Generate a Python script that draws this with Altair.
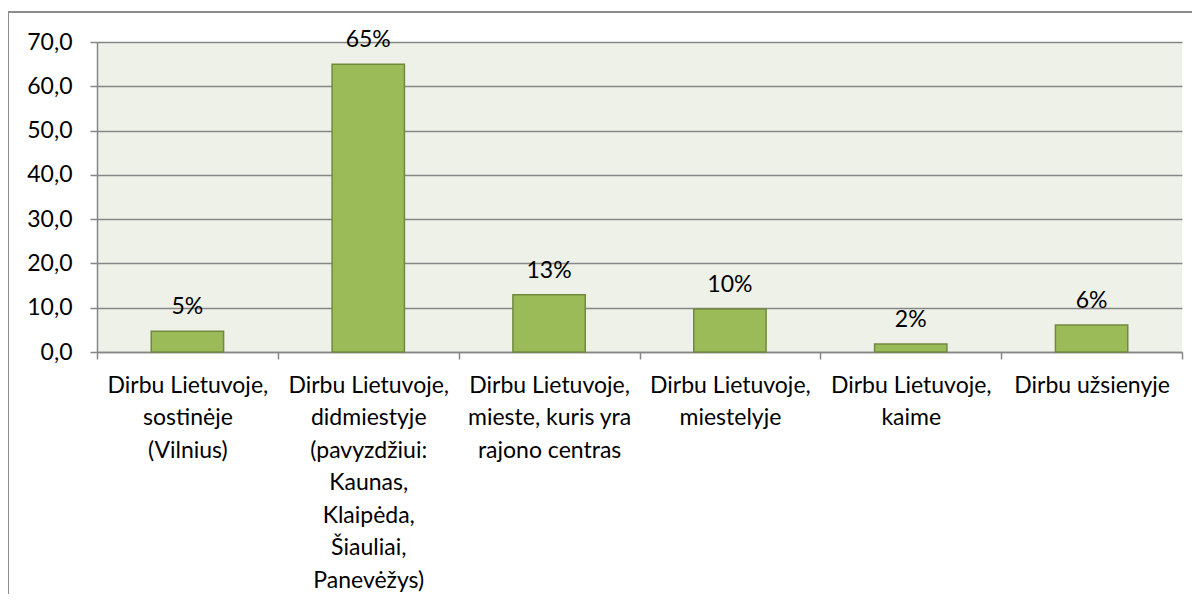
import altair as alt
import pandas as pd

categories = [
    "Dirbu Lietuvoje,|sostinėje|(Vilnius)",
    "Dirbu Lietuvoje,|didmiestyje|(pavyzdžiui:|Kaunas,|Klaipėda,|Šiauliai,|Panevėžys)",
    "Dirbu Lietuvoje,|mieste, kuris yra|rajono centras",
    "Dirbu Lietuvoje,|miestelyje",
    "Dirbu Lietuvoje,|kaime",
    "Dirbu užsienyje",
]
values = [4.7, 65.0, 12.9, 9.7, 1.8, 6.1]
labels = ["5%", "65%", "13%", "10%", "2%", "6%"]
y_ticks = [0, 10, 20, 30, 40, 50, 60, 70]

df = pd.DataFrame({"cat": categories, "value": values, "label": labels})

GRAY = "#868686"
FONT = "Lato"

x = alt.X(
    "cat:N",
    sort=None,
    scale=alt.Scale(paddingInner=0, paddingOuter=0),
    axis=alt.Axis(
        title=None,
        labelAngle=0,
        labelExpr="split(datum.label, '|')",
        tickBand="extent",
        labelFont=FONT,
        labelFontSize=23,
        labelLineHeight=32.5,
        labelColor="#000000",
        labelPadding=15,
        labelLimit=400,
        labelOverlap=False,
        tickSize=7,
        grid=False,
    ),
)
y = alt.Y(
    "value:Q",
    scale=alt.Scale(domain=[0, 70], nice=False),
    axis=alt.Axis(
        title=None,
        values=y_ticks,
        labelExpr="replace(format(datum.value, '.1f'), '.', ',')",
        grid=True,
        gridColor=GRAY,
        gridWidth=1.5,
        tickSize=7,
        labelPadding=18,
        labelFont=FONT,
        labelFontSize=23,
        labelColor="#000000",
    ),
)

bars = alt.Chart(df).mark_bar(
    width=alt.RelativeBandSize(0.4),
    color="#9BBB59",
    stroke="#71893F",
    strokeWidth=1.5,
).encode(x=x, y=y)

texts = alt.Chart(df).mark_text(
    dy=-17, baseline="alphabetic", font=FONT, fontSize=23, color="#000000"
).encode(x=x, y=y, text="label:N")

border = alt.Chart(pd.DataFrame({"b": [0]})).mark_rect(
    filled=False, stroke="#8C8C8C", strokeWidth=2
).encode(
    x=alt.value(-89), x2=alt.value(1400), y=alt.value(-30), y2=alt.value(900)
)

chart = (
    alt.layer(border, bars, texts)
    .properties(
        width=1085,
        height=310,
        autosize=alt.AutoSizeParams(type="none"),
        padding={"left": 89, "top": 34, "right": 10, "bottom": 242},
    )
    .configure_view(fill="#EEF1E8", stroke=None)
    .configure_axis(
        domainColor=GRAY, tickColor=GRAY, domainWidth=1.5, tickWidth=1.5
    )
)

chart.save("out.html", embed_options={"renderer": "svg", "actions": False})
